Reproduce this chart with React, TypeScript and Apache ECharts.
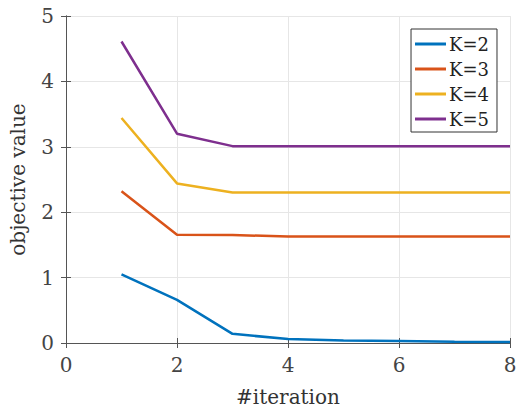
import React, { useEffect, useRef } from "react";
import * as echarts from "echarts";

const iterations = [1, 2, 3, 4, 5, 6, 7, 8];
const k2 = [1.05, 0.66, 0.14, 0.06, 0.04, 0.03, 0.02, 0.015];
const k3 = [2.32, 1.655, 1.65, 1.63, 1.63, 1.63, 1.63, 1.63];
const k4 = [3.44, 2.44, 2.3, 2.3, 2.3, 2.3, 2.3, 2.3];
const k5 = [4.61, 3.2, 3.01, 3.01, 3.01, 3.01, 3.01, 3.01];
const seriesNames = ["K=2", "K=3", "K=4", "K=5"];
const colors = ["#0072BD", "#D95319", "#EDB120", "#7E2F8E"];

const FONT = "DejaVu Serif";

export default function App() {
  const ref = useRef<HTMLDivElement>(null);
  useEffect(() => {
    if (!ref.current) return;
    const chart = echarts.init(ref.current, null, { renderer: "svg" });
    const data = [k2, k3, k4, k5];
    const axisLine = { show: true, lineStyle: { color: "#555", width: 1 } };
    const tick = { show: true, inside: true, length: 5, lineStyle: { color: "#555" } };
    chart.setOption({
      animation: false,
      backgroundColor: "#fff",
      textStyle: { fontFamily: FONT },
      grid: { left: 63, top: 16, right: 11, bottom: 67 },
      legend: {
        orient: "vertical",
        right: 24,
        top: 29,
        data: seriesNames,
        icon: "rect",
        itemWidth: 31,
        itemHeight: 3,
        itemGap: 7,
        padding: [6, 8, 4, 4],
        borderColor: "#333",
        borderWidth: 1,
        backgroundColor: "#fff",
        textStyle: { fontFamily: FONT, fontSize: 18, color: "#222", padding: [0, 0, 0, -2] },
      },
      xAxis: [
        {
          type: "value",
          min: 0,
          max: 8,
          interval: 2,
          name: "#iteration",
          nameLocation: "middle",
          nameGap: 44,
          nameTextStyle: { fontFamily: FONT, fontSize: 20, color: "#333" },
          axisLine,
          axisTick: tick,
          axisLabel: { fontFamily: FONT, fontSize: 20, color: "#444", margin: 12 },
          splitLine: { show: true, lineStyle: { color: "#e6e6e6" } },
        },
        {
          type: "value",
          position: "top",
          min: 0,
          max: 8,
          interval: 2,
          axisLine,
          axisTick: tick,
          axisLabel: { show: false },
          splitLine: { show: false },
        },
      ],
      yAxis: [
        {
          type: "value",
          min: 0,
          max: 5,
          interval: 1,
          name: "objective value",
          nameLocation: "middle",
          nameGap: 38,
          nameTextStyle: { fontFamily: FONT, fontSize: 20, color: "#333" },
          axisLine,
          axisTick: tick,
          axisLabel: { fontFamily: FONT, fontSize: 20, color: "#444", margin: 12 },
          splitLine: { show: true, lineStyle: { color: "#e6e6e6" } },
        },
        {
          type: "value",
          position: "right",
          min: 0,
          max: 5,
          interval: 1,
          axisLine,
          axisTick: tick,
          axisLabel: { show: false },
          splitLine: { show: false },
        },
      ],
      series: data.map((d, i) => ({
        name: seriesNames[i],
        type: "line",
        symbol: "none",
        data: d.map((v, j) => [iterations[j], v]),
        lineStyle: { color: colors[i], width: 2.5 },
        itemStyle: { color: colors[i] },
      })),
    });
    return () => chart.dispose();
  }, []);
  return <div ref={ref} style={{ width: 521, height: 412, position: "absolute", left: 0, top: 0 }} />;
}
